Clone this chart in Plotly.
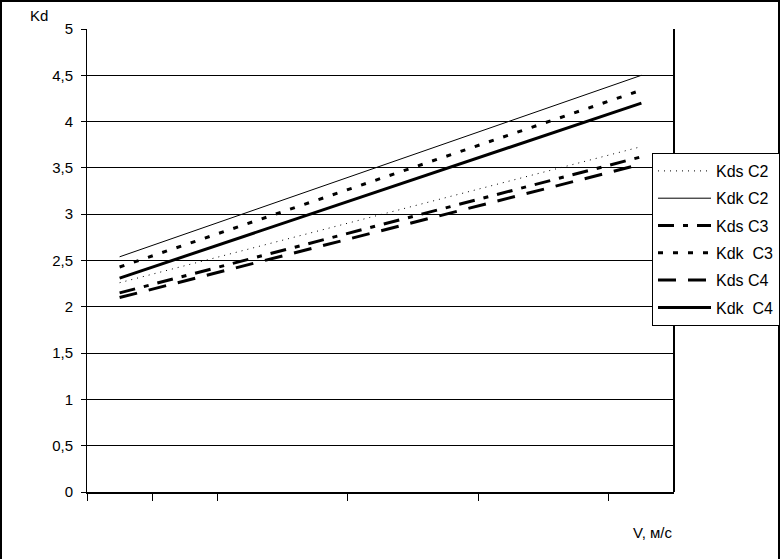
import plotly.graph_objects as go

# speed points (start / end of the plotted range)
v_points = [0.5, 8.5]

kds_c2 = [2.26, 3.73]
kdk_c2 = [2.54, 4.50]
kds_c3 = [2.15, 3.62]
kdk_c3 = [2.43, 4.34]
kds_c4 = [2.10, 3.54]
kdk_c4 = [2.31, 4.20]

series = [
    ("Kds C2", kds_c2, dict(color="black", width=1, dash="1px,5px")),
    ("Kdk C2", kdk_c2, dict(color="black", width=1)),
    ("Kds C3", kds_c3, dict(color="black", width=3, dash="16px,9px,5px,9px")),
    ("Kdk  C3", kdk_c3, dict(color="black", width=3, dash="5px,10px")),
    ("Kds C4", kds_c4, dict(color="black", width=3, dash="18px,12px")),
    ("Kdk  C4", kdk_c4, dict(color="black", width=3)),
]

FONT = "Liberation Sans, Arial, sans-serif"

fig = go.Figure()
for name, values, line in series:
    fig.add_trace(go.Scatter(
        x=v_points, y=values, name=name, mode="lines",
        line=line, legendgroup=name,
    ))

W, H = 780, 559
L, R, T, B = 87, 106, 29, 67
pw, ph = W - L - R, H - T - B

fig.update_layout(
    width=W, height=H,
    margin=dict(l=L, r=R, t=T, b=B, autoexpand=False),
    paper_bgcolor="white",
    plot_bgcolor="white",
    separators=", ",
    font=dict(family=FONT, size=15, color="black"),
    showlegend=True,
    legend=dict(
        x=(652 - L) / pw, y=(H - B - 153) / ph,
        xanchor="left", yanchor="top",
        bgcolor="white", bordercolor="black", borderwidth=1,
        font=dict(size=16), tracegroupgap=3.5, itemwidth=53,
    ),
)

fig.update_xaxes(
    range=[0, 9], tickvals=[0, 1, 2, 4, 6, 8],
    showticklabels=False, ticks="outside", ticklen=7, tickcolor="black",
    showgrid=False, zeroline=False,
    showline=True, linecolor="black", linewidth=2,
)
fig.update_yaxes(
    range=[0, 5], dtick=0.5, ticks="outside", ticklen=5, tickcolor="black",
    ticklabelstandoff=5,
    showgrid=True, gridcolor="black", gridwidth=1, zeroline=False,
    showline=True, linecolor="black", linewidth=1,
    tickfont=dict(size=15),
)

# right border of plot area and outer frame
fig.add_shape(type="line", xref="paper", yref="paper", x0=1, x1=1, y0=0, y1=1,
              line=dict(color="black", width=2))
fig.add_shape(type="rect", xref="paper", yref="paper",
              x0=(1 - L) / pw, x1=(W - 1 - L) / pw,
              y0=(B - H + 1) / ph, y1=(H - B - 1) / ph,
              line=dict(color="black", width=2))

fig.add_annotation(text="Kd", xref="paper", yref="paper",
                   x=(39 - L) / pw, y=(H - B - 16) / ph,
                   xanchor="center", yanchor="middle",
                   showarrow=False, font=dict(size=15))
fig.add_annotation(text="V, м/с", xref="paper", yref="paper",
                   x=(652 - L) / pw, y=(H - B - 532) / ph,
                   xanchor="center", yanchor="middle",
                   showarrow=False, font=dict(size=15))

fig.write_html("out.html", config={"displayModeBar": False},
               post_script="document.body.style.margin='0';")
